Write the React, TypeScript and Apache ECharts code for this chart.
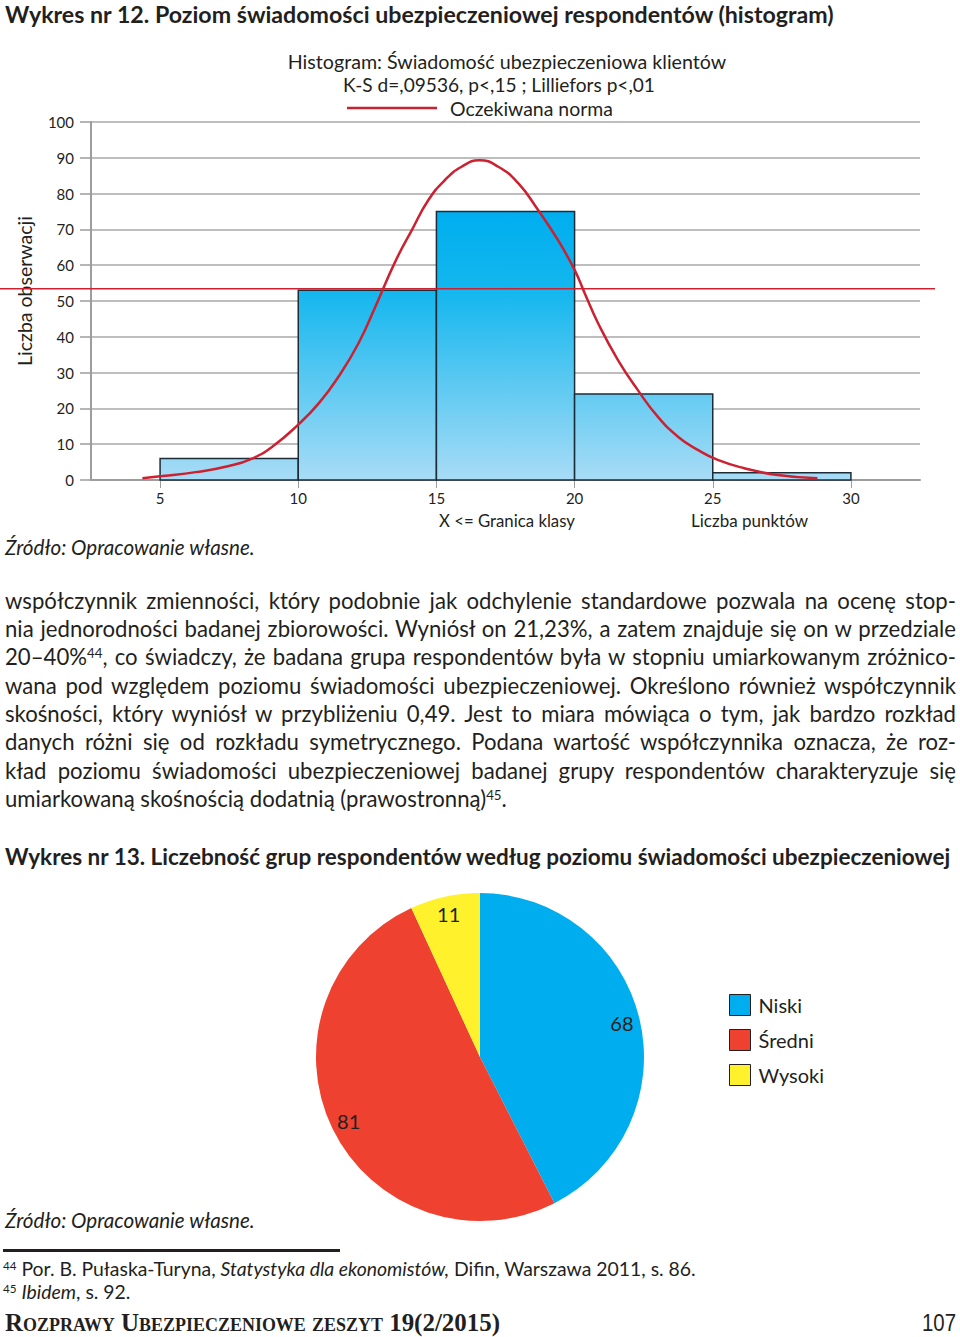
import React, { useEffect, useMemo, useRef } from 'react';
import * as echarts from 'echarts';

// ---------- Data ----------
const histTitle = 'Wykres nr 12. Poziom świadomości ubezpieczeniowej respondentów (histogram)';
const histSubtitle = ['Histogram: Świadomość ubezpieczeniowa klientów', 'K-S d=,09536, p<,15 ; Lilliefors p<,01'];
const normLegendName = 'Oczekiwana norma';
const yAxisName = 'Liczba obserwacji';
const xAxisNameLeft = 'X <= Granica klasy';
const xAxisNameRight = 'Liczba punktów';
const sourceText = 'Źródło: Opracowanie własne.';

const binStarts = [5, 10, 15, 20, 25];
const binEnds = [10, 15, 20, 25, 30];
const binCounts = [6, 53, 75, 24, 2];
const xTickValues = [5, 10, 15, 20, 25, 30];
const refLineValue = 53.4;

const normX = [4.36, 5.08, 6.29, 7.49, 8.33, 9.06, 9.99, 10.74, 11.46, 12.18, 12.79, 13.51, 14.11, 14.71, 15.31, 15.91, 16.55, 17.24, 17.96, 18.68, 19.4, 20.0, 20.37, 20.85, 21.57, 22.29, 23.01, 23.74, 24.46, 25.18, 26.14, 27.35, 28.79];
const normY = [0.5, 1.1, 2.2, 3.9, 6.0, 9.3, 15.4, 21.4, 28.9, 38.2, 48.4, 61.0, 69.8, 78.2, 83.8, 87.5, 89.3, 87.5, 82.9, 75.4, 67.0, 58.7, 52.1, 43.8, 33.5, 25.1, 17.7, 12.1, 8.4, 5.6, 3.3, 1.4, 0.5];

const pieTitle = 'Wykres nr 13. Liczebność grup respondentów według poziomu świadomości ubezpieczeniowej';
const pieNames = ['Niski', 'Średni', 'Wysoki'];
const pieValues = [68, 81, 11];
const pieColors = ['#00aeef', '#ee4130', '#fff22d'];

const paragraphLines = [
  'współczynnik zmienności, który podobnie jak odchylenie standardowe pozwala na ocenę stop-',
  'nia jednorodności badanej zbiorowości. Wyniósł on 21,23%, a zatem znajduje się on w przedziale',
  '20–40%|44|, co świadczy, że badana grupa respondentów była w stopniu umiarkowanym zróżnico-',
  'wana pod względem poziomu świadomości ubezpieczeniowej. Określono również współczynnik',
  'skośności, który wyniósł w przybliżeniu 0,49. Jest to miara mówiąca o tym, jak bardzo rozkład',
  'danych różni się od rozkładu symetrycznego. Podana wartość współczynnika oznacza, że roz-',
  'kład poziomu świadomości ubezpieczeniowej badanej grupy respondentów charakteryzuje się',
  'umiarkowaną skośnością dodatnią (prawostronną)|45|.',
];
const footnote1 = ['Por. B. Pułaska-Turyna, ', 'Statystyka dla ekonomistów,', ' Difin, Warszawa 2011, s. 86.'];

const FAMILY = 'Lato';
const FONT = 'Lato, "Noto Sans", sans-serif';
const INK = '#231f20';

let measureCtx: CanvasRenderingContext2D | null = null;
function textWidth(text: string, size: number, weight = 'normal', style = 'normal') {
  if (!measureCtx) measureCtx = document.createElement('canvas').getContext('2d');
  if (!measureCtx) return text.length * size * 0.5;
  measureCtx.font = `${style} ${weight} ${size}px ${FAMILY}`;
  return measureCtx.measureText(text).width;
}
function fitSize(text: string, target: number, weight = 'normal', style = 'normal') {
  return (100 * target) / textWidth(text, 100, weight, style);
}

function renderLine(line: string) {
  const parts = line.split('|');
  return parts.map((p, i) =>
    i % 2 === 1 ? (
      <sup key={i} style={{ fontSize: '0.6em', lineHeight: 0, verticalAlign: '0.55em' }}>{p}</sup>
    ) : (
      <React.Fragment key={i}>{p}</React.Fragment>
    )
  );
}

export default function App() {
  const ref = useRef<HTMLDivElement>(null);
  const footerRef = useRef<HTMLDivElement>(null);

  const sizes = useMemo(() => {
    let p = fitSize('umiarkowaną skośnością dodatnią (prawostronną)', 500);
    const maxW = Math.max(...paragraphLines.map((l) => textWidth(l.replace(/\|\d+\|/g, '00'), p)));
    if (maxW > 946) p = (p * 946) / maxW;
    const fn = fitSize(footnote1.join(''), 688);
    return { p, fn };
  }, []);

  useEffect(() => {
    document.body.style.margin = '0';
    if (!ref.current) return;
    const chart = echarts.init(ref.current, null, { renderer: 'svg', width: 960, height: 1337 });

    const txt = (x: number, y: number, text: string, target: number, opts: any = {}) => {
      const weight = opts.weight || 'normal';
      const style = opts.italic ? 'italic' : 'normal';
      return {
        type: 'text',
        x,
        y,
        rotation: opts.rotation || 0,
        silent: true,
        style: {
          text,
          fontSize: fitSize(text, target, weight, style),
          fontFamily: FONT,
          fontWeight: weight,
          fontStyle: style,
          fill: INK,
          align: opts.align || 'left',
          textAlign: opts.align || 'left',
          verticalAlign: 'middle',
          textVerticalAlign: 'middle',
        },
      };
    };

    const option: any = {
      animation: false,
      backgroundColor: '#ffffff',
      grid: { left: 91, top: 122, width: 829, height: 358, outerBoundsMode: 'none' },
      xAxis: {
        type: 'value',
        min: 2.5,
        max: 32.5,
        axisLine: { onZero: false, lineStyle: { color: '#9d9d9d', width: 2 } },
        axisTick: { show: true, customValues: xTickValues, length: 8, lineStyle: { color: '#9d9d9d', width: 1 } },
        axisLabel: { customValues: xTickValues, margin: 10, fontSize: 15, color: INK, fontFamily: FONT },
        splitLine: { show: false },
      },
      yAxis: {
        type: 'value',
        min: 0,
        max: 100,
        interval: 10,
        axisLine: { show: true, lineStyle: { color: '#9d9d9d', width: 2 } },
        axisTick: { show: true, length: 11, lineStyle: { color: '#9d9d9d', width: 1.5 } },
        axisLabel: { margin: 17, fontSize: 15, color: INK, fontFamily: FONT },
        splitLine: { lineStyle: { color: '#a8a8a8', width: 1.5 } },
      },
      legend: {
        data: pieNames,
        orient: 'vertical',
        left: 729,
        top: 994,
        padding: 0,
        itemWidth: 21,
        itemHeight: 21,
        itemGap: 13,
        icon: 'rect',
        selectedMode: false,
        itemStyle: { borderColor: INK, borderWidth: 1 },
        textStyle: { fontSize: 20, lineHeight: 21, color: INK, fontFamily: FONT, padding: [0, 0, 0, 3] },
      },
      series: [
        {
          type: 'custom',
          name: 'Histogram',
          data: binStarts.map((s, i) => [s, binEnds[i], binCounts[i]]),
          encode: { x: [0, 1], y: 2 },
          z: 2,
          silent: true,
          renderItem: (params: any, api: any) => {
            const x0 = api.value(0);
            const x1 = api.value(1);
            const v = api.value(2);
            const pTop = api.coord([x0, v]);
            const pBot = api.coord([x1, 0]);
            const gTop = api.coord([x0, Math.max(...binCounts)])[1];
            const gBot = api.coord([x0, 0])[1];
            return {
              type: 'rect',
              shape: { x: pTop[0], y: pTop[1], width: pBot[0] - pTop[0], height: pBot[1] - pTop[1] },
              style: {
                fill: new echarts.graphic.LinearGradient(0, gTop, 0, gBot, [
                  { offset: 0, color: '#00aeef' },
                  { offset: 0.3, color: '#14b7ee' },
                  { offset: 1, color: '#a8dcf6' },
                ], true),
                stroke: '#1d2d38',
                lineWidth: 1.5,
              },
            };
          },
        },
        {
          type: 'line',
          name: normLegendName,
          data: normX.map((x, i) => [x, normY[i]]),
          smooth: 0.5,
          symbol: 'none',
          z: 3,
          silent: true,
          lineStyle: { color: '#cc2131', width: 2.5 },
          itemStyle: { color: '#cc2131' },
        },
        {
          type: 'pie',
          name: 'Grupy',
          center: [480, 1057],
          radius: 164,
          startAngle: 90,
          clockwise: true,
          silent: true,
          label: { show: false },
          labelLine: { show: false },
          data: pieNames.map((n, i) => ({ name: n, value: pieValues[i], itemStyle: { color: pieColors[i] } })),
        },
        {
          type: 'pie',
          name: 'Etykiety',
          center: [480, 1057],
          radius: [122, 164],
          startAngle: 90,
          clockwise: true,
          silent: true,
          itemStyle: { color: 'rgba(0,0,0,0)', borderWidth: 0 },
          label: { show: true, position: 'inside', formatter: '{c}', fontSize: 20, color: INK, fontFamily: FONT },
          labelLine: { show: false },
          data: pieNames.map((n, i) => ({ name: n, value: pieValues[i] })),
        },
      ],
      graphic: [
        txt(5, 14, histTitle, 830, { weight: 'bold' }),
        txt(507, 61, histSubtitle[0], 439, { align: 'center' }),
        txt(499, 84, histSubtitle[1], 312, { align: 'center' }),
        { type: 'line', silent: true, shape: { x1: 347, y1: 108, x2: 437, y2: 108 }, style: { stroke: '#cc2131', lineWidth: 2.5 } },
        txt(450, 108, normLegendName, 163),
        txt(24, 291, yAxisName, 150, { align: 'center', rotation: Math.PI / 2 }),
        txt(507, 520, xAxisNameLeft, 136, { align: 'center' }),
        txt(749.5, 520, xAxisNameRight, 117, { align: 'center' }),
        txt(5, 547, sourceText, 250, { italic: true }),
        txt(5, 856, pieTitle, 947, { weight: 'bold' }),
        txt(5, 1220, sourceText, 250, { italic: true }),
        { id: 'refline', type: 'line', silent: true, z: 10, shape: { x1: 0, y1: 0, x2: 935, y2: 0 }, style: { stroke: '#cc2131', lineWidth: 1.5 } },
      ],
    };
    chart.setOption(option);
    const yRef = chart.convertToPixel({ yAxisIndex: 0 }, refLineValue) as number;
    chart.setOption({ graphic: [{ id: 'refline', shape: { x1: 0, y1: yRef, x2: 935, y2: yRef } }] });

    if (footerRef.current) {
      const el = footerRef.current;
      const w = el.scrollWidth;
      if (w > 0) el.style.transform = `scaleX(${495 / w})`;
    }
    return () => chart.dispose();
  }, []);

  const supStyle = { fontSize: '0.6em', lineHeight: 0, verticalAlign: '0.55em' } as const;

  return (
    <div style={{ position: 'absolute', left: 0, top: 0, width: 960, height: 1337, background: '#fff', overflow: 'hidden' }}>
      <div ref={ref} style={{ position: 'absolute', left: 0, top: 0, width: 960, height: 1337 }} />
      <div style={{ position: 'absolute', left: 5, top: 586.8, width: 951, fontFamily: FONT, fontSize: sizes.p, lineHeight: '28.3px', color: INK }}>
        {paragraphLines.map((l, i) => {
          const last = i === paragraphLines.length - 1;
          return (
            <div key={i} style={{ textAlign: last ? 'left' : 'justify', textAlignLast: last ? 'left' : 'justify', whiteSpace: 'nowrap', height: 28.3 }}>
              {renderLine(l)}
            </div>
          );
        })}
      </div>
      <div style={{ position: 'absolute', left: 3, top: 1248.5, width: 337, height: 3, background: INK }} />
      <div style={{ position: 'absolute', left: 3, top: 1256.5, fontFamily: FONT, fontSize: sizes.fn, lineHeight: '23px', color: INK, whiteSpace: 'nowrap' }}>
        <div>
          <sup style={supStyle}>44</sup> {footnote1[0]}<i>{footnote1[1]}</i>{footnote1[2]}
        </div>
        <div>
          <sup style={supStyle}>45</sup> <i>Ibidem</i>, s. 92.
        </div>
      </div>
      <div ref={footerRef} style={{ position: 'absolute', left: 5, top: 1309, fontFamily: '"Liberation Serif", serif', fontWeight: 'bold', fontVariant: 'small-caps', fontSize: 25, lineHeight: '28px', color: INK, whiteSpace: 'nowrap', transformOrigin: 'left center' }}>
        Rozprawy Ubezpieczeniowe zeszyt 19(2/2015)
      </div>
      <div style={{ position: 'absolute', right: 4, top: 1309, fontFamily: '"Liberation Sans", sans-serif', fontSize: 24, lineHeight: '28px', color: INK, whiteSpace: 'nowrap', transform: 'scaleX(0.85)', transformOrigin: 'right center' }}>
        107
      </div>
    </div>
  );
}
